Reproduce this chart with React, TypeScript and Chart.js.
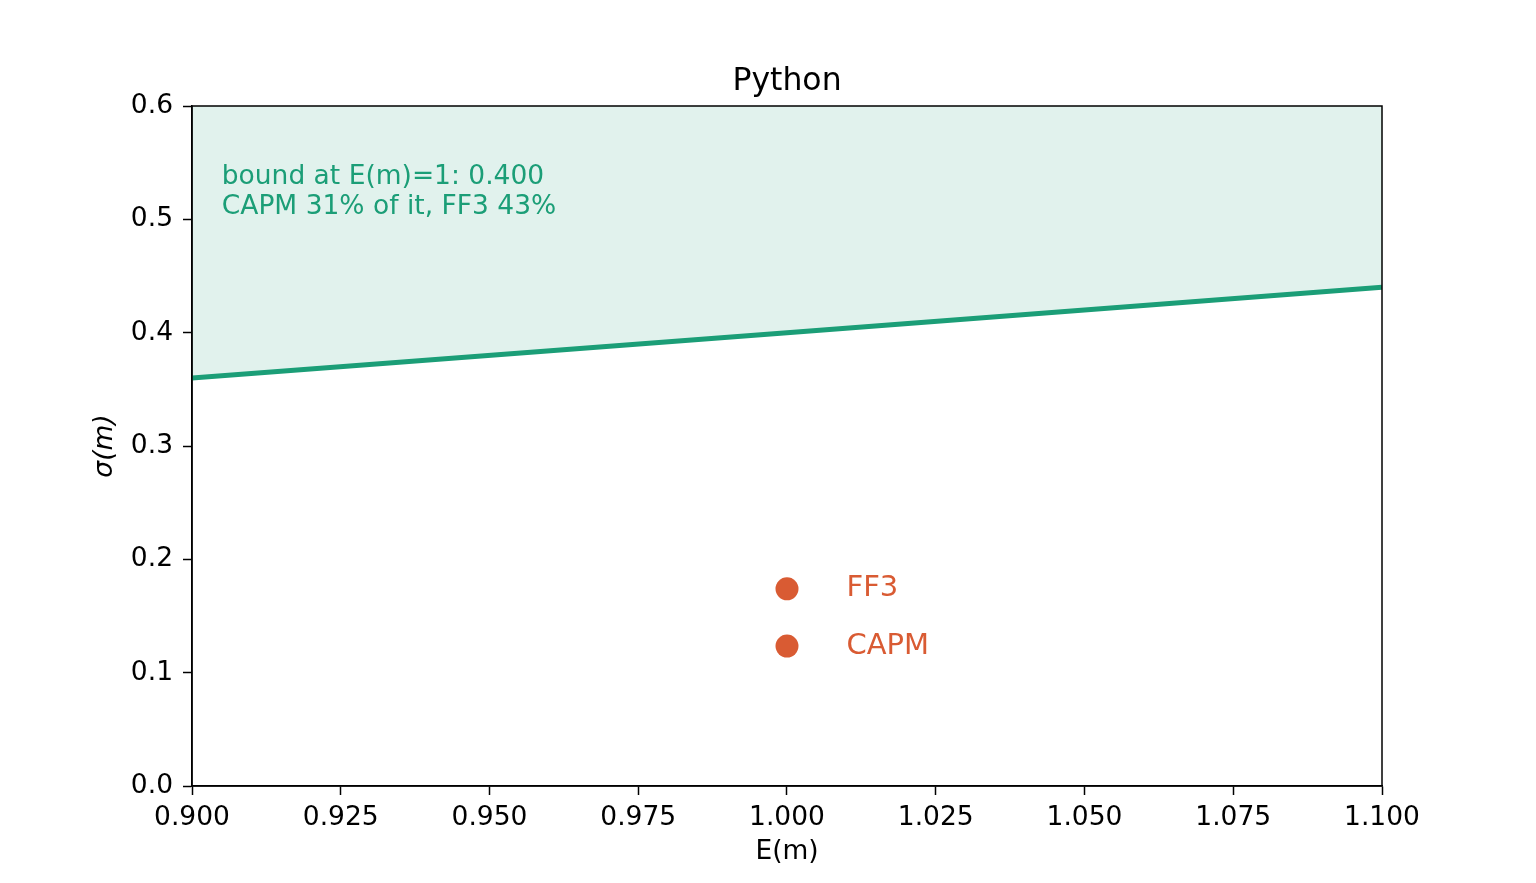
import { useEffect, useRef } from 'react';
import { Chart, registerables } from 'chart.js';

Chart.register(...registerables);

// bound line sigma(m) >= 0.4 * E(m)
const boundMean = [0.9, 1.0, 1.1];
const boundSigma = [0.36, 0.4, 0.44];

// model points
const modelNames = ['CAPM', 'FF3'];
const modelMean = [1.0, 1.0];
const modelSigma = [0.1235, 0.174];

const annotationLines = ['bound at E(m)=1: 0.400', 'CAPM 31% of it, FF3 43%'];

const GREEN = '#1b9e77';
const ORANGE = '#d95b33';
const FONT = '"DejaVu Sans", sans-serif';
const TICK_SIZE = 26.5;

const framePlugin = {
  id: 'frame',
  afterDatasetsDraw(chart: Chart) {
    const { ctx, chartArea: a, scales } = chart;
    ctx.save();
    // labels next to the points
    ctx.fillStyle = ORANGE;
    ctx.font = `29px ${FONT}`;
    ctx.textBaseline = 'middle';
    ctx.textAlign = 'left';
    modelNames.forEach((name, i) => {
      const x = scales.x.getPixelForValue(modelMean[i] + 0.01);
      const y = scales.y.getPixelForValue(modelSigma[i]);
      ctx.fillText(name, x, y);
    });
    // annotation text in axes coordinates
    ctx.fillStyle = GREEN;
    ctx.font = `26.5px ${FONT}`;
    ctx.textBaseline = 'alphabetic';
    const tx = a.left + 0.025 * (a.right - a.left);
    annotationLines.forEach((line, i) => {
      ctx.fillText(line, tx, 184 + i * 29.5);
    });
    // title
    ctx.fillStyle = '#000';
    ctx.font = `31.5px ${FONT}`;
    ctx.textAlign = 'center';
    ctx.fillText('Python', (a.left + a.right) / 2, 90);
    // axis titles
    ctx.font = `${TICK_SIZE}px ${FONT}`;
    ctx.textBaseline = 'middle';
    ctx.fillText('E(m)', (a.left + a.right) / 2, 852);
    ctx.save();
    ctx.translate(105, (a.top + a.bottom) / 2);
    ctx.rotate(-Math.PI / 2);
    ctx.font = `italic ${TICK_SIZE}px ${FONT}`;
    ctx.fillText('σ(m)', 0, 0);
    ctx.restore();
    // box
    ctx.strokeStyle = '#000';
    ctx.lineWidth = 1.5;
    ctx.strokeRect(a.left, a.top, a.right - a.left, a.bottom - a.top);
    ctx.restore();
  },
};

export default function App() {
  const canvasRef = useRef<HTMLCanvasElement>(null);
  const chartRef = useRef<Chart | null>(null);

  useEffect(() => {
    document.body.style.margin = '0';
    if (!canvasRef.current) return;
    if (chartRef.current) chartRef.current.destroy();
    const ctx = canvasRef.current.getContext('2d');
    if (!ctx) return;

    chartRef.current = new Chart(ctx, {
      type: 'scatter',
      data: {
        datasets: [
          {
            type: 'line',
            data: boundMean.map((x, i) => ({ x, y: boundSigma[i] })),
            borderColor: GREEN,
            borderWidth: 5,
            pointRadius: 0,
            fill: 'end',
            backgroundColor: 'rgba(27,158,119,0.13)',
          },
          {
            data: modelMean.map((x, i) => ({ x, y: modelSigma[i] })),
            backgroundColor: ORANGE,
            borderWidth: 0,
            pointRadius: 11.5,
          },
        ],
      },
      options: {
        responsive: false,
        devicePixelRatio: 1,
        animation: false,
        layout: { padding: { left: 0, top: 106, right: 154, bottom: 0 } },
        plugins: {
          legend: { display: false },
          tooltip: { enabled: false },
        },
        scales: {
          x: {
            type: 'linear',
            min: 0.9,
            max: 1.1,
            afterFit: (s: any) => { s.height = 97; },
            ticks: {
              stepSize: 0.025,
              color: '#000',
              font: { family: FONT, size: TICK_SIZE },
              padding: 7,
              callback: (v: any) => Number(v).toFixed(3),
            },
            grid: { drawOnChartArea: false, tickLength: 9, color: '#000', tickWidth: 1.5 },
            border: { color: '#000', width: 1.5 },
          },
          y: {
            min: 0,
            max: 0.6,
            afterFit: (s: any) => { s.width = 192; },
            ticks: {
              stepSize: 0.1,
              color: '#000',
              font: { family: FONT, size: TICK_SIZE },
              padding: 10,
              callback: (v: any) => Number(v).toFixed(1),
            },
            grid: { drawOnChartArea: false, tickLength: 9, color: '#000', tickWidth: 1.5 },
            border: { color: '#000', width: 1.5 },
          },
        },
      },
      plugins: [framePlugin],
    });

    return () => {
      if (chartRef.current) chartRef.current.destroy();
    };
  }, []);

  return (
    <div style={{ position: 'absolute', left: 0, top: 0, width: 1536, height: 883, background: '#fff' }}>
      <canvas ref={canvasRef} width={1536} height={883} />
    </div>
  );
}
